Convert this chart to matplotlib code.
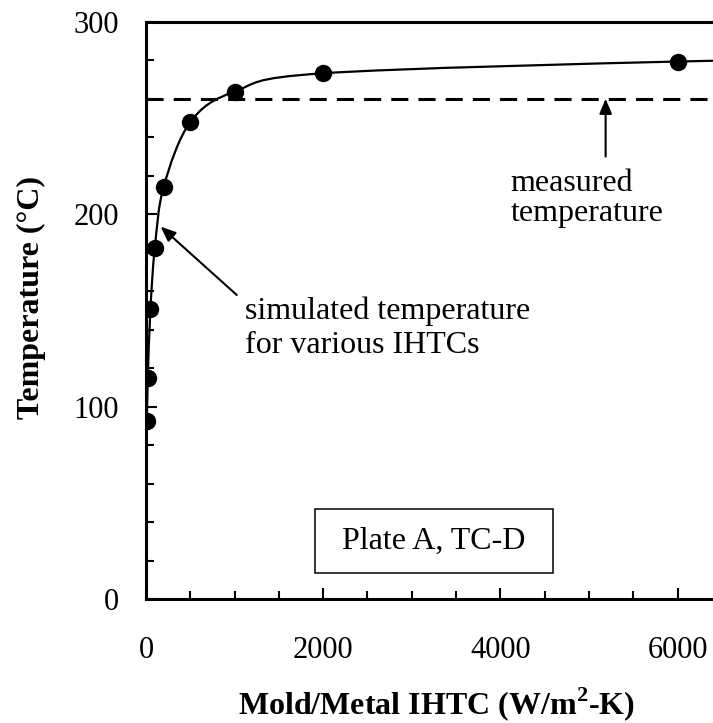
import numpy as np
import matplotlib
matplotlib.use("Agg")
import matplotlib.pyplot as plt
from matplotlib.path import Path
from matplotlib.patches import PathPatch, Rectangle
from matplotlib.ticker import MultipleLocator

plt.rcParams['font.family'] = ['Liberation Serif', 'DejaVu Serif']
plt.rcParams['mathtext.fontset'] = 'custom'
plt.rcParams['mathtext.rm'] = 'Liberation Serif'
plt.rcParams['mathtext.bf'] = 'Liberation Serif:bold'

# data
ihtc = [10, 20, 50, 100, 200, 500, 1000, 2000, 6000, 8000]
temp_sim = [92.5, 114.7, 150.7, 182.6, 214.3, 247.8, 263.7, 273.2, 279.3, 280.0]
temp_measured = 260
xticks = [0, 2000, 4000, 6000]
yticks = [0, 100, 200, 300]


def smooth_path(x, y):
    # catmull-rom through the points, drawn as bezier segments (like excel's smoothed line)
    pts = np.column_stack([x, y]).astype(float)
    p = np.vstack([pts[0], pts, pts[-1]])
    verts = [pts[0]]
    codes = [Path.MOVETO]
    for i in range(1, len(p) - 2):
        c1 = p[i] + (p[i + 1] - p[i - 1]) / 6
        c2 = p[i + 1] - (p[i + 2] - p[i]) / 6
        verts += [c1, c2, p[i + 1]]
        codes += [Path.CURVE4] * 3
    return Path(verts, codes)


fig = plt.figure(figsize=(7.13, 7.23), dpi=100)
ax = fig.add_axes([146 / 713, 124 / 723, 567 / 713, 577.3 / 723])

ax.add_patch(PathPatch(smooth_path(ihtc, temp_sim), fc='none', ec='k', lw=1.6))
ax.plot(ihtc, temp_sim, 'o', color='k', ms=11.5, zorder=3)
ax.axhline(temp_measured, color='k', lw=2.2, dashes=(5.6, 3.3))

ax.set_xlim(0, 6400)
ax.set_ylim(0, 300)
ax.set_xticks(xticks)
ax.set_yticks(yticks)
ax.xaxis.set_minor_locator(MultipleLocator(500))
ax.yaxis.set_minor_locator(MultipleLocator(20))
ax.tick_params(which='both', direction='in', width=1.5, top=False, right=False)
ax.tick_params(which='major', length=8)
ax.tick_params(which='minor', length=6)
ax.tick_params(axis='x', labelsize=22, pad=26.9)
ax.tick_params(axis='y', labelsize=22, pad=19.4)
for s in ['left', 'bottom', 'top']:
    ax.spines[s].set_linewidth(2.2)
ax.spines['right'].set_visible(False)

ax.set_xlabel(r'Mold/Metal IHTC (W/m$^\mathbf{2}$-K)', fontsize=23, fontweight='bold')
ax.set_ylabel('Temperature (°C)', fontsize=23, fontweight='bold')
ax.xaxis.set_label_coords(0.513, -0.149)
ax.yaxis.set_label_coords(-0.1767, 0.522)

arrow = dict(arrowstyle='-|>,head_length=0.6,head_width=0.25', color='k', lw=1.5,
             shrinkA=0, shrinkB=0, mutation_scale=15)
ax.annotate('', xy=(166, 193.5), xytext=(1024, 158), arrowprops=arrow)
# va='baseline' puts the last line's baseline at y
ax.text(1117, 127.9, 'simulated temperature\nfor various IHTCs', fontsize=23,
        ha='left', va='baseline', linespacing=1.24)

ax.annotate('', xy=(5188, temp_measured), xytext=(5188, 229.9), arrowprops=arrow)
ax.text(4113, 196.5, 'measured\ntemperature', fontsize=23,
        ha='left', va='baseline', linespacing=1.03)

ax.add_patch(Rectangle((1907, 13.5), 2685, 33.3, fill=False, ec='k', lw=1.1))
ax.text(3250, 30.1, 'Plate A, TC-D', fontsize=23, ha='center', va='center')

fig.savefig('out.png', dpi=100)
